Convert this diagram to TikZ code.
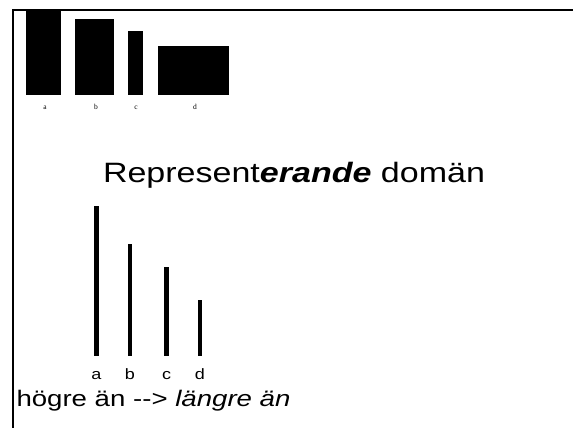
\documentclass[tikz,border=0pt]{standalone}
\usepackage{fontspec}
\setmainfont{Liberation Sans}
\newfontfamily\smallserif{Liberation Serif}
\begin{document}
\begin{tikzpicture}[x=1pt,y=-1pt,
  txt/.style={inner sep=0pt,outer sep=0pt,anchor=base west},
  lbl/.style={inner sep=0pt,outer sep=0pt,anchor=base},
  tiny/.style={inner sep=0pt,outer sep=0pt,anchor=base,font=\smallserif\fontsize{7.5}{8}\selectfont},
  blk/.style={fill=black},
  bar/.style={line width=4.5pt}]
\useasboundingbox (0,0) rectangle (573,428);
% frame
\draw[line width=2.8pt] (13,428) -- (13,10) -- (573,10);
% top rectangles
\fill[blk] (26.3,10) rectangle (61,95);
\fill[blk] (75,19.5) rectangle (114,95);
\fill[blk] (128,31.5) rectangle (142.5,95);
\fill[blk] (158,46) rectangle (229,95);
\node[tiny] (ta) at (45,110) {a};
\node[tiny] (tb) at (96,110) {b};
\node[tiny] (tc) at (136,110) {c};
\node[tiny] (td) at (195,110) {d};
% title
\node[txt] (title) at (103,182.3) {\fontsize{28}{32}\selectfont\scalebox{1.215}[1]{Represent\textbf{\textit{erande}} domän}};
% bars
\coordinate (a1) at (96.3,206); \coordinate (a2) at (96.3,356);
\coordinate (b1) at (130,244); \coordinate (b2) at (130,356);
\coordinate (c1) at (166.7,267); \coordinate (c2) at (166.7,356);
\coordinate (d1) at (200,300); \coordinate (d2) at (200,356);
\draw[bar] (a1) -- (a2);
\draw[bar] (b1) -- (b2);
\draw[bar] (c1) -- (c2);
\draw[bar] (d1) -- (d2);
\node[lbl] (la) at (96.3,379.5) {\fontsize{15}{17}\selectfont\scalebox{1.2}[1]{a}};
\node[lbl] (lb) at (130,379.5) {\fontsize{15}{17}\selectfont\scalebox{1.2}[1]{b}};
\node[lbl] (lc) at (166.7,379.5) {\fontsize{15}{17}\selectfont\scalebox{1.2}[1]{c}};
\node[lbl] (ld) at (200,379.5) {\fontsize{15}{17}\selectfont\scalebox{1.2}[1]{d}};
% bottom text
\node[txt] (bottom) at (16.5,406.7) {\fontsize{22.5}{26}\selectfont\scalebox{1.227}[1]{högre än -{}-> \textit{längre än}}};
\end{tikzpicture}
\end{document}
